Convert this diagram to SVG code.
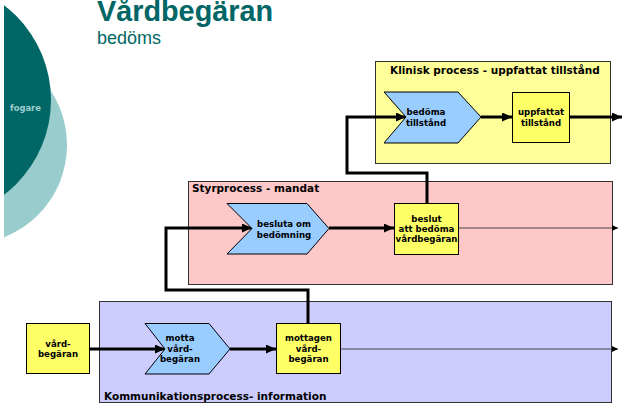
<svg xmlns="http://www.w3.org/2000/svg" width="622" height="408" viewBox="0 0 622 408">
  <defs>
    <marker id="arrow" markerUnits="userSpaceOnUse" markerWidth="10" markerHeight="9" refX="10" refY="4.5" orient="auto">
      <path d="M0,0 L10,4.5 L0,9 z" fill="#000"/>
    </marker>
    <marker id="arrowSmall" markerUnits="userSpaceOnUse" markerWidth="6" markerHeight="6" refX="6" refY="3" orient="auto">
      <path d="M0,0 L6,3 L0,6 z" fill="#000"/>
    </marker>
    <clipPath id="sideClip">
      <rect x="4" y="0" width="200" height="408"/>
    </clipPath>
  </defs>
  <style>
    .lane { stroke: #333; stroke-width: 1; }
    .lane-title { font-family: "DejaVu Sans", Verdana, sans-serif; font-weight: bold; font-size: 10.5px; fill: #000; }
    .label { font-family: "DejaVu Sans", Verdana, sans-serif; font-weight: bold; font-size: 8.6px; fill: #000; text-anchor: middle; }
    .activity { fill: #99ccff; stroke: #000; stroke-width: 1; }
    .state { fill: #ffff66; stroke: #000; stroke-width: 1; }
    .flow { fill: none; stroke: #000; stroke-width: 3; }
    .thin { fill: none; stroke: #444; stroke-width: 1.2; }
  </style>

  <rect width="622" height="408" fill="#fff"/>

  <!-- side decoration -->
  <g clip-path="url(#sideClip)">
    <circle cx="-32" cy="145" r="99" fill="#99cccc"/>
    <circle cx="-68" cy="100" r="119" fill="#006666"/>
  </g>
  <text x="10" y="111" font-family="DejaVu Sans, Verdana, sans-serif" font-weight="bold" font-size="8.4" fill="#9fcfcf">fogare</text>

  <!-- heading -->
  <text x="97" y="21" font-family="Liberation Sans, Arial, sans-serif" font-weight="bold" font-size="28.8" fill="#006666">Vårdbegäran</text>
  <text x="97" y="44" font-family="Liberation Sans, Arial, sans-serif" font-size="18" fill="#006666">bedöms</text>

  <!-- swimlanes -->
  <g id="lane-klinisk">
    <rect class="lane" x="375.5" y="61.5" width="235" height="102" fill="#ffff99"/>
    <text class="lane-title" x="390" y="74">Klinisk process - uppfattat tillstånd</text>
  </g>
  <g id="lane-styr">
    <rect class="lane" x="188.5" y="181.5" width="424" height="103" fill="#ffc8c8"/>
    <text class="lane-title" x="192" y="192">Styrprocess - mandat</text>
  </g>
  <g id="lane-kommunikation">
    <rect class="lane" x="99.5" y="301.5" width="512" height="101" fill="#ccccff"/>
    <text class="lane-title" x="104" y="400">Kommunikationsprocess- information</text>
  </g>

  <!-- connectors -->
  <g id="connectors">
    <line class="flow" x1="90" y1="349" x2="165" y2="349" marker-end="url(#arrow)"/>
    <line class="flow" x1="230" y1="349" x2="276" y2="349" marker-end="url(#arrow)"/>
    <line class="thin" x1="341" y1="349" x2="618" y2="349" marker-end="url(#arrowSmall)"/>
    <polyline class="flow" points="308,323 308,290 166,290 166,228 252,228" marker-end="url(#arrow)"/>
    <line class="flow" x1="329" y1="228" x2="394" y2="228" marker-end="url(#arrow)"/>
    <line class="thin" x1="458" y1="228" x2="618" y2="228" marker-end="url(#arrowSmall)"/>
    <polyline class="flow" points="427,203 427,173 347,173 347,117 406,117" marker-end="url(#arrow)"/>
    <line class="flow" x1="481" y1="117" x2="512" y2="117" marker-end="url(#arrow)"/>
    <line class="flow" x1="569" y1="117" x2="622" y2="117" marker-end="url(#arrow)"/>
  </g>

  <!-- nodes -->
  <g id="vardbegaran">
    <rect class="state" x="26.5" y="323.5" width="63" height="50"/>
    <text class="label" x="58" y="347">vård-</text>
    <text class="label" x="58" y="357">begäran</text>
  </g>
  <g id="motta-vardbegaran">
    <polygon class="activity" points="145,323.5 209,323.5 230,349 209,374 145,374 165,349"/>
    <text class="label" x="180" y="341">motta</text>
    <text class="label" x="180" y="351.5">vård-</text>
    <text class="label" x="180" y="362">begäran</text>
  </g>
  <g id="mottagen-vardbegaran">
    <rect class="state" x="276.5" y="323.5" width="64" height="50"/>
    <text class="label" x="308.5" y="341">mottagen</text>
    <text class="label" x="308.5" y="351.5">vård-</text>
    <text class="label" x="308.5" y="362">begäran</text>
  </g>
  <g id="besluta-om-bedomning">
    <polygon class="activity" points="227,203.5 307,203.5 329,228.5 307,254 227,254 252,228.5"/>
    <text class="label" x="284" y="227">besluta om</text>
    <text class="label" x="284" y="237.5">bedömning</text>
  </g>
  <g id="beslut-att-bedoma">
    <rect class="state" x="394.5" y="203.5" width="64" height="51"/>
    <text class="label" x="426.5" y="221.5">beslut</text>
    <text class="label" x="426.5" y="231.5">att bedöma</text>
    <text class="label" x="426.5" y="241.5">vårdbegäran</text>
  </g>
  <g id="bedoma-tillstand">
    <polygon class="activity" points="384,92 458,92 481,117 458,143 384,143 406,117"/>
    <text class="label" x="426" y="114.5">bedöma</text>
    <text class="label" x="426" y="125.5">tillstånd</text>
  </g>
  <g id="uppfattat-tillstand">
    <rect class="state" x="512.5" y="92.5" width="57" height="50"/>
    <text class="label" x="541" y="114.5">uppfattat</text>
    <text class="label" x="541" y="125.5">tillstånd</text>
  </g>
</svg>
